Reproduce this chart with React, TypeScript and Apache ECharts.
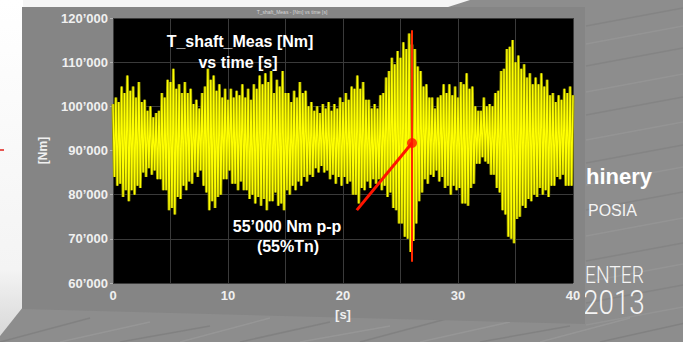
import React, { useEffect, useRef } from "react";
import * as echarts from "echarts";

// seconds between successive positive peaks of the torque oscillation
const sampleStep = 0.25;

// positive peaks [kNm], one per cycle, t = 0 … 40 s
const peaks = [
  100.5, 102, 101, 104.5, 103, 107, 103.5, 104.5, 102, 105.5,
  101, 101.5, 99, 100, 97.5, 98.5, 99, 103, 102, 106,
  105.5, 108.5, 104, 105, 103, 105.5, 103, 104, 100.5, 101.5,
  99.5, 103, 104.5, 108.5, 106, 107, 103.5, 105, 102, 104,
  101.5, 104, 102, 103.5, 102.5, 105, 102, 104, 101.5, 105,
  104, 107, 105, 107.5, 105.5, 108, 103, 106, 104.5, 108,
  103, 103, 101, 103.5, 102, 105.5, 103, 103.5, 100, 101,
  99, 100, 98.5, 100.5, 99.5, 101, 99, 100.5, 99.5, 102,
  101, 103, 101.5, 104.5, 104, 107, 104, 105.5, 101.5, 101.5,
  99.5, 100.5, 99.5, 102.5, 103, 106.5, 108, 111, 109.5, 112.5,
  111, 114.5, 113, 116.5, 114, 113, 109, 108, 104.5, 105,
  102, 102, 99.5, 102, 102.5, 105, 103, 105, 102.5, 104.5,
  102, 105.5, 105, 107.5, 104, 104.5, 100, 99, 99, 102,
  100, 100.5, 100, 103, 103.5, 108, 108.5, 113, 113.5, 115,
  110, 111.5, 108.5, 109.5, 106.5, 107.5, 105, 106.5, 105, 107.5,
  104.5, 106, 102.5, 103, 101, 102.5, 101.5, 104, 103, 104.5,
  102.5,
];

// negative peaks [kNm], half a cycle after each positive peak
const troughs = [
  84, 82, 82.5, 79.5, 81, 78.5, 81, 80, 82, 81.5,
  85, 84, 86, 84.5, 85.5, 83.5, 83.5, 81, 81, 76.5,
  77, 75.5, 79.5, 79, 82, 81, 83, 82.5, 85, 84,
  85.5, 82, 80.5, 76.5, 78.5, 77, 79.5, 80, 83.5, 83.5,
  85.5, 82.5, 82.5, 81, 83, 81, 81, 79, 80, 78,
  79.5, 77.5, 79, 76.5, 78.5, 78.5, 80.5, 77.5, 78, 76.5,
  81, 80, 82, 81, 83, 82, 84, 83, 84.5, 84,
  86, 85, 86.5, 85, 85.5, 83.5, 84.5, 82.5, 84, 82,
  84, 82.5, 83, 80, 80, 78, 81.5, 81, 83, 81.5,
  83.5, 82.5, 83.5, 81, 82, 79.5, 80.5, 77, 76.5, 73.5,
  73.5, 70.5, 70, 67, 69.5, 73.5, 78.5, 80.5, 83.5, 82.5,
  84.5, 84, 85.5, 83, 84, 81.5, 82, 80, 82, 81,
  81.5, 78, 78, 77.5, 81.5, 82.5, 87, 87, 88.5, 87.5,
  87, 84.5, 84.5, 81.5, 80.5, 76.5, 75.5, 70.5, 70, 69,
  74.5, 75, 77.5, 77, 79, 78.5, 80, 79.5, 81.5, 80,
  81, 79.5, 82, 82, 84, 83.5, 84.5, 82, 82, 82,
];

const xTickLabels = [0, 10, 20, 30, 40];
const yTickValues = [60, 70, 80, 90, 100, 110, 120]; // kNm

// red annotation: peak-to-peak marker and pointer
const ppMarker = [
  [26, 64.8],
  [26, 117.2],
];
const pointerLine = [
  [21.2, 76.5],
  [26, 91.7],
];
const pointerDot = [[26, 91.7]];

const plotTitle = ["T_shaft_Meas [Nm]", "vs time [s]"];
const annotation = ["55\u2019000 Nm p-p", "(55%Tn)"];
const tinyTitle = "T_shaft_Meas - [Nm] vs time [s]";

const FONT = "'Liberation Sans', Arial, sans-serif";

export default function App() {
  const ref = useRef<HTMLDivElement>(null);

  useEffect(() => {
    const chart = echarts.init(ref.current!, null, { renderer: "svg" });

    const signal: number[][] = [];
    peaks.forEach((p, i) => {
      const t = i * sampleStep;
      signal.push([t, p]);
      if (i < troughs.length) signal.push([t + sampleStep / 2, troughs[i]]);
    });

    const labelColor = "#f0f0f0";

    // faint streak texture of the slide background (decoration only)
    const streaks: any[] = [];
    const streakRows = [12, 30, 52, 78, 101, 126, 149, 171, 196, 222, 247, 268, 289, 311];
    streakRows.forEach((y, k) => {
      streaks.push({
        type: "line",
        z: -30,
        silent: true,
        shape: { x1: 586, y1: y + 14, x2: 683, y2: y - 4 },
        style: { stroke: k % 2 ? "#9a9a9a" : "#7f7f7f", lineWidth: 1.5, opacity: 0.6 },
      });
    });
    [0, 60, 120, 180, 240, 300, 360, 420, 480, 540, 600].forEach((x, k) => {
      streaks.push({
        type: "line",
        z: -30,
        silent: true,
        shape: { x1: x, y1: 342, x2: x + 90, y2: 318 + (k % 3) * 4 },
        style: { stroke: k % 2 ? "#9c9c9c" : "#7a7a7a", lineWidth: 1.5, opacity: 0.6 },
      });
    });

    chart.setOption({
      animation: false,
      backgroundColor: "#8d8d8d",
      textStyle: { fontFamily: FONT },
      grid: {
        left: 113,
        right: 110,
        top: 18,
        bottom: 59,
        show: true,
        backgroundColor: "#000000",
        borderWidth: 0,
      },
      xAxis: {
        type: "value",
        min: 0,
        max: 40,
        interval: 5,
        name: "[s]",
        nameLocation: "middle",
        nameGap: 25,
        nameTextStyle: { color: labelColor, fontWeight: "bold", fontSize: 13 },
        axisLine: { show: false },
        axisTick: { show: false },
        axisLabel: {
          color: labelColor,
          fontWeight: "bold",
          fontSize: 13,
          margin: 6,
          formatter: (v: number) => (xTickLabels.includes(v) ? String(v) : ""),
        },
        splitLine: { show: true, lineStyle: { color: "#3a3a3a", width: 1 } },
      },
      yAxis: {
        type: "value",
        min: 60,
        max: 120,
        interval: 10,
        name: "[Nm]",
        nameLocation: "middle",
        nameGap: 64,
        nameRotate: 90,
        nameTextStyle: { color: labelColor, fontWeight: "bold", fontSize: 12 },
        axisLine: { show: false },
        axisTick: { show: true, length: 3, lineStyle: { color: "#b0b0b0" } },
        axisLabel: {
          color: labelColor,
          fontWeight: "bold",
          fontSize: 13,
          margin: 5,
          formatter: (v: number) => (yTickValues.includes(v) ? `${v}\u2019000` : ""),
        },
        splitLine: { show: true, lineStyle: { color: "#3a3a3a", width: 1 } },
      },
      graphic: [
        ...streaks,
        // slide background pieces
        {
          type: "polygon",
          z: -20,
          silent: true,
          shape: { points: [[0, 0], [470, 0], [445, 8], [0, 8]] },
          style: { fill: "#f5f5f5" },
        },
        {
          type: "polygon",
          z: -20,
          silent: true,
          shape: { points: [[0, 0], [23, 0], [23, 307], [0, 336]] },
          style: {
            fill: new echarts.graphic.LinearGradient(0, 0, 0, 1, [
              { offset: 0, color: "#ffffff" },
              { offset: 0.8, color: "#f4f4f4" },
              { offset: 1, color: "#d8d8d8" },
            ]),
          },
        },
        {
          type: "line",
          z: -20,
          silent: true,
          shape: { x1: 0, y1: 150, x2: 4, y2: 150 },
          style: { stroke: "#e0201a", lineWidth: 1.5 },
        },
        // grey figure panel
        {
          type: "polygon",
          z: -10,
          silent: true,
          shape: { points: [[22, 7], [585, 7], [585, 324], [22, 309]] },
          style: { fill: "#858585" },
        },
        // slide text peeking out on the right
        {
          type: "text",
          z: -15,
          silent: true,
          x: 586,
          y: 176,
          style: {
            text: "hinery",
            fill: "#ffffff",
            font: `bold 22px ${FONT}`,
            textVerticalAlign: "middle",
          },
        },
        {
          type: "text",
          z: -15,
          silent: true,
          x: 588,
          y: 210,
          style: {
            text: "POSIA",
            fill: "#f4f4f4",
            font: `16px ${FONT}`,
            textVerticalAlign: "middle",
          },
        },
        {
          type: "text",
          z: -15,
          silent: true,
          x: 585,
          y: 275,
          scaleX: 0.8,
          style: {
            text: "ENTER",
            fill: "#f4f4f4",
            font: `300 24px Roboto, ${FONT}`,
            textVerticalAlign: "middle",
          },
        },
        {
          type: "text",
          z: -15,
          silent: true,
          x: 583,
          y: 303,
          scaleX: 0.82,
          style: {
            text: "2013",
            fill: "#f4f4f4",
            font: `300 34px Roboto, ${FONT}`,
            textVerticalAlign: "middle",
          },
        },
        // tiny MATLAB figure title
        {
          type: "text",
          z: 5,
          silent: true,
          x: 292,
          y: 12,
          style: {
            text: tinyTitle,
            fill: "#d8d8d8",
            font: `5px ${FONT}`,
            textAlign: "center",
            textVerticalAlign: "middle",
          },
        },
        // annotations inside the plot
        {
          type: "text",
          z: 100,
          silent: true,
          x: 240,
          y: 41,
          style: {
            text: plotTitle[0],
            fill: "#ffffff",
            font: `bold 16px ${FONT}`,
            textAlign: "center",
            textVerticalAlign: "middle",
          },
        },
        {
          type: "text",
          z: 100,
          silent: true,
          x: 238,
          y: 62,
          style: {
            text: plotTitle[1],
            fill: "#ffffff",
            font: `bold 16px ${FONT}`,
            textAlign: "center",
            textVerticalAlign: "middle",
          },
        },
        {
          type: "text",
          z: 100,
          silent: true,
          x: 287,
          y: 226,
          style: {
            text: annotation[0],
            fill: "#ffffff",
            font: `bold 16px ${FONT}`,
            textAlign: "center",
            textVerticalAlign: "middle",
          },
        },
        {
          type: "text",
          z: 100,
          silent: true,
          x: 288,
          y: 246,
          style: {
            text: annotation[1],
            fill: "#ffffff",
            font: `bold 16px ${FONT}`,
            textAlign: "center",
            textVerticalAlign: "middle",
          },
        },
      ],
      series: [
        {
          // darker under-stroke that fills the gaps between oscillations
          type: "line",
          data: signal,
          showSymbol: false,
          symbol: "none",
          z: 1,
          lineStyle: { color: "#8f8f00", width: 3 },
          silent: true,
        },
        {
          type: "line",
          data: signal,
          showSymbol: false,
          symbol: "none",
          z: 2,
          lineStyle: { color: "#ffff00", width: 1.3 },
          silent: true,
        },
        {
          type: "line",
          data: ppMarker,
          showSymbol: false,
          symbol: "none",
          z: 4,
          lineStyle: { color: "#ff2a00", width: 2 },
          silent: true,
        },
        {
          type: "line",
          data: pointerLine,
          showSymbol: false,
          symbol: "none",
          z: 5,
          lineStyle: { color: "#ff1400", width: 3 },
          silent: true,
        },
        {
          type: "scatter",
          data: pointerDot,
          symbol: "circle",
          symbolSize: 10,
          z: 6,
          itemStyle: { color: "#ff1400" },
          silent: true,
        },
      ],
    });

    return () => chart.dispose();
  }, []);

  return (
    <div
      ref={ref}
      style={{ position: "fixed", left: 0, top: 0, width: 683, height: 342 }}
    />
  );
}
